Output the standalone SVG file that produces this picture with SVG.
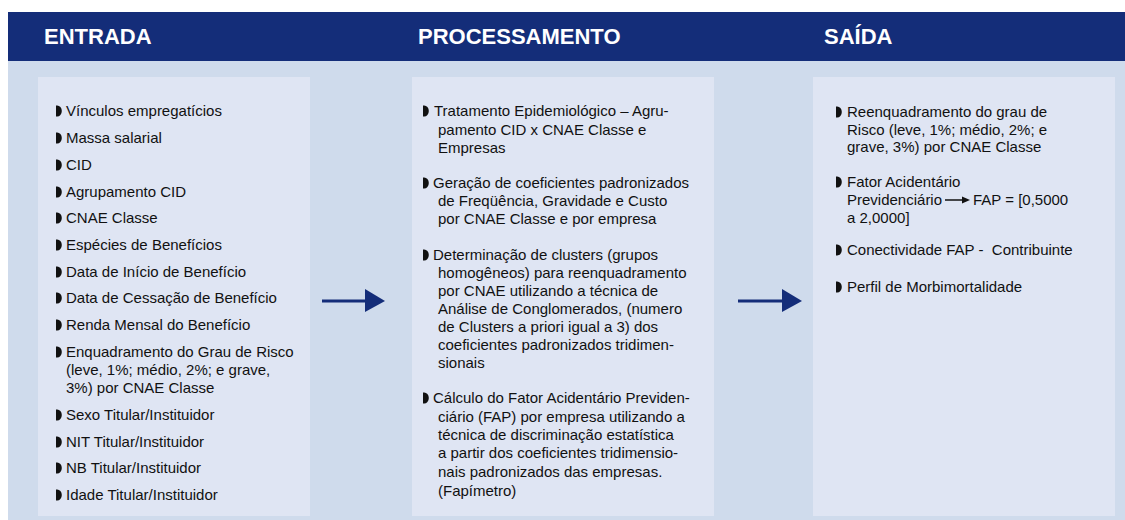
<svg xmlns="http://www.w3.org/2000/svg" xmlns:xlink="http://www.w3.org/1999/xlink" width="1125" height="520" viewBox="0 0 1125 520">
<style>
.hdr{fill:#142d79}
.bg{fill:#cfdbec}
.box{fill:#dfe5f3}
.h{font-family:"Liberation Sans",Arial,sans-serif;font-weight:bold;font-size:22px;fill:#ffffff}
.t{font-family:"Liberation Sans",Arial,sans-serif;font-size:15px;fill:#111111}
.arr{stroke:#142d79;stroke-width:3;fill:none}
.ah{fill:#142d79}
</style>
<defs>
<symbol id="b" overflow="visible"><path d="M0,-5.5 L1.2,-5.5 A4.6,5.5 0 0 1 1.2,5.5 L0,5.5 Z" fill="#111"/></symbol>
</defs>
<rect class="bg" x="8" y="61" width="1117" height="459"/>
<rect class="hdr" x="8" y="12" width="1117" height="49"/>
<text class="h" x="44" y="44">ENTRADA</text>
<text class="h" x="418" y="44">PROCESSAMENTO</text>
<text class="h" x="824" y="44">SAÍDA</text>

<g id="entrada">
<rect class="box" x="38" y="77" width="272" height="439"/>
<use xlink:href="#b" x="56" y="111"/><text class="t" x="66" y="116">Vínculos empregatícios</text>
<use xlink:href="#b" x="56" y="138"/><text class="t" x="66" y="143">Massa salarial</text>
<use xlink:href="#b" x="56" y="165"/><text class="t" x="66" y="170">CID</text>
<use xlink:href="#b" x="56" y="192"/><text class="t" x="66" y="197">Agrupamento CID</text>
<use xlink:href="#b" x="56" y="218"/><text class="t" x="66" y="223">CNAE Classe</text>
<use xlink:href="#b" x="56" y="245"/><text class="t" x="66" y="250">Espécies de Benefícios</text>
<use xlink:href="#b" x="56" y="272"/><text class="t" x="66" y="277">Data de Início de Benefício</text>
<use xlink:href="#b" x="56" y="298"/><text class="t" x="66" y="303">Data de Cessação de Benefício</text>
<use xlink:href="#b" x="56" y="325"/><text class="t" x="66" y="330">Renda Mensal do Benefício</text>
<use xlink:href="#b" x="56" y="352"/><text class="t" x="66" y="357">Enquadramento do Grau de Risco</text>
<text class="t" x="66" y="375">(leve, 1%; médio, 2%; e grave,</text>
<text class="t" x="66" y="393">3%) por CNAE Classe</text>
<use xlink:href="#b" x="56" y="415"/><text class="t" x="66" y="420">Sexo Titular/Instituidor</text>
<use xlink:href="#b" x="56" y="442"/><text class="t" x="66" y="447">NIT Titular/Instituidor</text>
<use xlink:href="#b" x="56" y="468"/><text class="t" x="66" y="473">NB Titular/Instituidor</text>
<use xlink:href="#b" x="56" y="495"/><text class="t" x="66" y="500">Idade Titular/Instituidor</text>
</g>

<g id="processamento">
<rect class="box" x="412" y="77" width="302" height="439"/>
<use xlink:href="#b" x="423" y="111"/><text class="t" x="434" y="116">Tratamento Epidemiológico – Agru-</text>
<text class="t" x="438" y="135">pamento CID x CNAE Classe e</text>
<text class="t" x="438" y="153">Empresas</text>
<use xlink:href="#b" x="423" y="183"/><text class="t" x="433" y="188">Geração de coeficientes padronizados</text>
<text class="t" x="438" y="206">de Freqüência, Gravidade e Custo</text>
<text class="t" x="438" y="224">por CNAE Classe e por empresa</text>
<use xlink:href="#b" x="423" y="255"/><text class="t" x="433" y="260">Determinação de clusters (grupos</text>
<text class="t" x="438" y="278">homogêneos) para reenquadramento</text>
<text class="t" x="438" y="296">por CNAE utilizando a técnica de</text>
<text class="t" x="438" y="314">Análise de Conglomerados, (numero</text>
<text class="t" x="438" y="332">de Clusters a priori igual a 3) dos</text>
<text class="t" x="438" y="350">coeficientes padronizados tridimen-</text>
<text class="t" x="438" y="368">sionais</text>
<use xlink:href="#b" x="423" y="398"/><text class="t" x="433" y="403">Cálculo do Fator Acidentário Previden-</text>
<text class="t" x="438" y="422">ciário (FAP) por empresa utilizando a</text>
<text class="t" x="438" y="440">técnica de discriminação estatística</text>
<text class="t" x="438" y="458">a partir dos coeficientes tridimensio-</text>
<text class="t" x="438" y="477">nais padronizados das empresas.</text>
<text class="t" x="438" y="496">(Fapímetro)</text>
</g>

<g id="saida">
<rect class="box" x="813" y="77" width="302" height="439"/>
<use xlink:href="#b" x="836" y="112"/><text class="t" x="847" y="117">Reenquadramento do grau de</text>
<text class="t" x="847" y="135">Risco (leve, 1%; médio, 2%; e</text>
<text class="t" x="847" y="152">grave, 3%) por CNAE Classe</text>
<use xlink:href="#b" x="836" y="182"/><text class="t" x="847" y="187">Fator Acidentário</text>
<text class="t" x="847" y="205">Previdenciário</text>
<line x1="945" y1="200" x2="964" y2="200" stroke="#111" stroke-width="1.5"/>
<polygon points="962,196.5 970,200 962,203.5" fill="#111"/>
<text class="t" x="973" y="205">FAP = [0,5000</text>
<text class="t" x="847" y="223">a 2,0000]</text>
<use xlink:href="#b" x="836" y="250"/><text class="t" x="847" y="255" xml:space="preserve">Conectividade FAP -  Contribuinte</text>
<use xlink:href="#b" x="836" y="287"/><text class="t" x="847" y="292">Perfil de Morbimortalidade</text>
</g>

<g id="connectors">
<line class="arr" x1="322" y1="301" x2="368" y2="301"/>
<polygon class="ah" points="365,289 385,301 365,312"/>
<line class="arr" x1="738" y1="301" x2="785" y2="301"/>
<polygon class="ah" points="782,289 802,301 782,312"/>
</g>
</svg>
